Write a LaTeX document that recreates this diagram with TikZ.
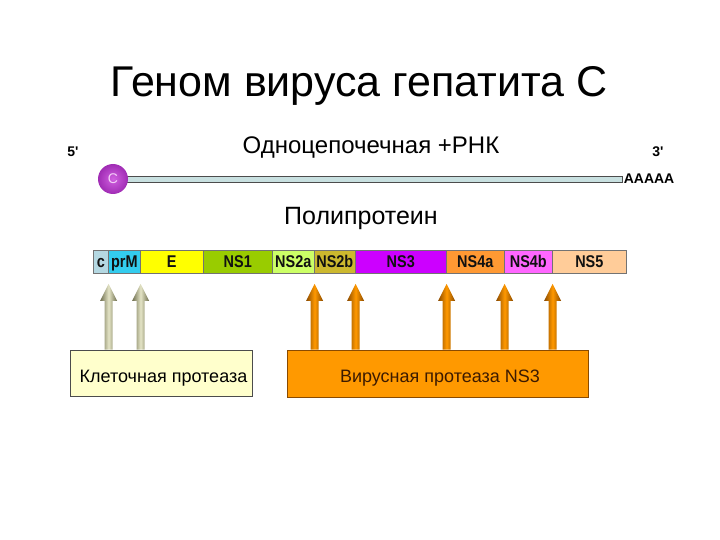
\documentclass[tikz,border=0pt]{standalone}
\usepackage{fontspec}
\setmainfont{Liberation Sans}
\newfontfamily\segfont[FakeStretch=0.85]{Liberation Sans}
\usetikzlibrary{positioning,calc,shapes.geometric}
\definecolor{ink}{HTML}{111111}
\definecolor{segc}{HTML}{B4D8E2}
\definecolor{segprm}{HTML}{33CCEE}
\definecolor{sege}{HTML}{FFFF00}
\definecolor{segnsa}{HTML}{99CC00}
\definecolor{segnsb}{HTML}{CCFF66}
\definecolor{segnsc}{HTML}{CCB82E}
\definecolor{segnsd}{HTML}{CC00FF}
\definecolor{segnse}{HTML}{FF9933}
\definecolor{segnsf}{HTML}{FF66FF}
\definecolor{segnsg}{HTML}{FFCC99}
\definecolor{rnafill}{HTML}{C8E0E0}
\definecolor{capviolet}{HTML}{A02CB4}
\definecolor{capmid}{HTML}{D060E0}
\definecolor{caplight}{HTML}{F4D0F8}
\definecolor{cellfill}{HTML}{FFFFCC}
\definecolor{virfill}{HTML}{FF9900}
\definecolor{virdark}{HTML}{8A4A00}
\definecolor{virtext}{HTML}{3C1A00}
\definecolor{olivedark}{HTML}{6E6E4E}
\definecolor{olivelight}{HTML}{E4E4C6}
\tikzset{
  ttl/.style={font=\fontsize{43}{50}\selectfont,inner sep=0pt},
  caplbl/.style={font=\fontsize{24}{28}\selectfont,inner sep=0pt,anchor=base},
  endlbl/.style={font=\fontsize{14}{16}\selectfont\bfseries,inner sep=0pt},
  seg/.style={draw=black!55,line width=0.6pt,inner sep=0pt,minimum height=23,anchor=west,
    text height=12.5pt,text depth=2pt,font=\fontsize{17}{19}\segfont\bfseries,text=ink},
  rnaline/.style={draw=black!70,fill=rnafill,line width=0.6pt,inner sep=0pt,minimum height=6,anchor=west},
  capball/.style={circle,inner color=capmid,outer color=capviolet,minimum size=30,inner sep=0pt,
    text=caplight,font=\fontsize{14}{16}\selectfont},
  cellbox/.style={draw=black!70,fill=cellfill,line width=0.6pt,minimum width=182,minimum height=46},
  virbox/.style={draw=virdark,fill=virfill,line width=0.6pt,minimum width=301,minimum height=47},
  boxtext/.style={font=\fontsize{18}{21}\selectfont,inner sep=0pt,anchor=base},
  cellshade/.style={left color=olivedark,right color=olivedark,middle color=olivelight},
  virshade/.style={left color=virdark,right color=virdark,middle color=virfill}}

\begin{document}
\begin{tikzpicture}[x=1pt,y=-1pt]
  \useasboundingbox (0,0) rectangle (720,540);
  \node[ttl] (title) at (359,86) {Геном вируса гепатита С};
  % the RNA strand
  \node[caplbl] (rnalbl) at (371,154) {Одноцепочечная +РНК};
  \node[endlbl] (five) at (73,152) {5\textquotesingle};
  \node[endlbl] (three) at (658,152) {3\textquotesingle};
  \node[rnaline,minimum width=500] (rna) at (122,179) {};
  \node[capball] (capc) at (113,179) {C};
  \node[endlbl,anchor=west] (polya) at ([xshift=1pt]rna.east) {AAAAA};
  % the polyprotein
  \node[caplbl,font=\fontsize{25}{29}\selectfont] (polylbl) at (361,225) {Полипротеин};
  \foreach \n/\xa/\xb/\c/\t in {sc/93/108/segc/c, sprm/108/140/segprm/prM, se/140/203/sege/E,
      sns1/203/272/segnsa/NS1, sns2a/272/314/segnsb/NS2a, sns2b/314/355/segnsc/NS2b,
      sns3/355/446/segnsd/NS3, sns4a/446/504/segnse/NS4a, sns4b/504/552/segnsf/NS4b,
      sns5/552/626/segnsg/NS5}
    \node[seg,fill=\c,minimum width=\xb-\xa] (\n) at (\xa,262) {\t};
  % the proteases
  \node[cellbox] (cell) at (161,373) {};
  \node[boxtext] (celltxt) at (163.5,382) {Клеточная протеаза};
  \node[virbox] (vir) at (437.5,373.5) {};
  \node[boxtext,text=virtext] (virtxt) at (440,382) {Вирусная протеаза NS3};
  \foreach \b in {sc,sprm}
    \shade[cellshade] let \p1=(\b.south east), \p2=(cell.north) in
      (\x1-4pt,\y2) -- (\x1-4pt,\y1-27pt) -- (\x1-8.5pt,\y1-27pt) -- (\x1,\y1-10pt)
      -- (\x1+8.5pt,\y1-27pt) -- (\x1+4pt,\y1-27pt) -- (\x1+4pt,\y2) -- cycle;
  \foreach \b in {sns2a,sns2b,sns3,sns4a,sns4b}
    \shade[virshade] let \p1=(\b.south east), \p2=(vir.north) in
      (\x1-4pt,\y2) -- (\x1-4pt,\y1-27pt) -- (\x1-8.5pt,\y1-27pt) -- (\x1,\y1-10pt)
      -- (\x1+8.5pt,\y1-27pt) -- (\x1+4pt,\y1-27pt) -- (\x1+4pt,\y2) -- cycle;
\end{tikzpicture}
\end{document}
